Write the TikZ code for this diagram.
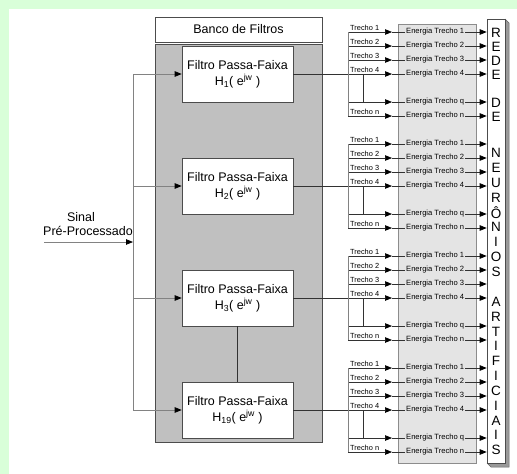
\documentclass[tikz,border=0pt]{standalone}
\usepackage{fontspec}
\setmainfont{Liberation Sans}
\usetikzlibrary{arrows.meta}
\definecolor{bggreen}{RGB}{217,255,217}
\definecolor{bankgray}{RGB}{192,192,192}
\definecolor{engray}{RGB}{228,228,228}
\definecolor{linec}{RGB}{50,50,50}
\definecolor{busc}{RGB}{130,130,130}
\tikzset{
  tip/.tip={Triangle[length=7pt,width=5.5pt,color=black]},
  conn/.style={draw=linec, line width=0.7pt},
  busline/.style={draw=busc, line width=0.8pt},
  filt/.style={draw=black!70, fill=white, line width=0.6pt, minimum width=111pt, minimum height=56pt, align=center, inner sep=0pt, font=\fontsize{12.5}{16}\selectfont},
  etext/.style={anchor=west, inner sep=1pt, font=\fontsize{7.6}{9}\selectfont},
  tlab/.style={anchor=base west, inner sep=0pt, font=\fontsize{7.4}{9}\selectfont},
  letter/.style={inner sep=0pt, font=\fontsize{13.5}{14}\selectfont},
  bigtext/.style={inner sep=0pt, font=\fontsize{12.5}{15}\selectfont}
}
\begin{document}
\begin{tikzpicture}[x=1pt,y=-1pt]
\useasboundingbox (0,0) rectangle (517,474);
\fill[bggreen] (0,0) rectangle (517,474);
\fill[white] (9,9) rectangle (517,474);

% filter bank
\node[draw=black!70, fill=white, line width=0.6pt, minimum width=167pt, minimum height=25pt, bigtext] (banco) at (238.5,29.5) {Banco de Filtros};
\node[draw=black!70, fill=bankgray, line width=0.6pt, minimum width=167pt, minimum height=398pt] (bank) at (238.5,243) {};

\node[filt] (f0) at (237.5,74) {Filtro Passa-Faixa\\H\textsubscript{1}( e\textsuperscript{jw} )};
\node[filt] (f1) at (237.5,186) {Filtro Passa-Faixa\\H\textsubscript{2}( e\textsuperscript{jw} )};
\node[filt] (f2) at (237.5,298) {Filtro Passa-Faixa\\H\textsubscript{3}( e\textsuperscript{jw} )};
\node[filt] (f3) at (237.5,410) {Filtro Passa-Faixa\\H\textsubscript{19}( e\textsuperscript{jw} )};
\draw[conn] (f2.south) -- (f3.north);

% input
\foreach \k in {0,1,2,3} {
  \coordinate (in-\k) at (133,{74+112*\k});
  \draw[busline, -tip] (in-\k) -- (f\k.west);
}
\draw[busline] (in-0) -- (in-3);
\node[bigtext] (sig1) at (81,217) {Sinal};
\node[bigtext] (sig2) at (88,231) {Pré-Processado};
\coordinate (sin) at (44,242);
\draw[busline, -tip] (sin) -- (sin -| in-0);

% energy box
\node[draw=black!45, fill=engray, line width=0.6pt, minimum width=78pt, minimum height=439pt] (ebox) at (437,243.5) {};

% neural network box with 3D shadow
\fill[black!40] (505,19) -- (509,23) -- (509,467) -- (491,467) -- (487,463) -- (505,463) -- cycle;
\draw[black!60, line width=0.5pt] (505,19) -- (509,23) -- (509,467) -- (491,467) -- (487,463);
\node[draw=black!70, fill=white, line width=0.6pt, minimum width=18pt, minimum height=444pt] (nn) at (496,241) {};
\foreach \l/\yy [count=\i] in {R/33,E/47,D/61,E/75,D/103,E/117,N/153,E/168,U/183,R/198,Ô/213,N/227,I/242,O/257,S/272,A/302,R/317,T/332,I/346,F/361,I/376,C/391,I/406,A/421,I/435,S/450} {
  \node[letter] (L\i) at (496,\yy) {\l};
}

% sections
\foreach \k in {0,1,2,3} {
  \pgfmathsetmacro\yb{32+112*\k}
  \foreach \r/\off in {1/0, 2/14, 3/28, 4/42, q/70, n/84} {
    \node[etext] (e-\k-\r) at (405,{\yb+\off}) {Energia Trecho \r};
    \draw[conn, -tip] (e-\k-\r.east) -- (e-\k-\r.east -| nn.west);
    \coordinate (b-\k-\r) at (348,{\yb+\off});
    \coordinate (a-\k-\r) at (392,{\yb+\off});
    \draw[conn] (a-\k-\r) -- (e-\k-\r.west);
  }
  \foreach \r/\off in {1/0, 2/14, 3/28, 4/42, n/84} {
    \node[tlab] (t-\k-\r) at (350,{\yb+\off-1.6}) {Trecho \r};
  }
  \foreach \r in {1,2,3,q,n} {
    \draw[conn, -tip] (b-\k-\r) -- (a-\k-\r);
  }
  \draw[conn, -tip] (f\k.east) -- (a-\k-4);
  \draw[busline] (b-\k-1) -- (b-\k-n);
  \coordinate (j-\k) at (363,{\yb+42});
  \coordinate (jj-\k) at (363,{\yb+70});
  \draw[conn] (j-\k) -- (jj-\k);
}
\end{tikzpicture}
\end{document}
